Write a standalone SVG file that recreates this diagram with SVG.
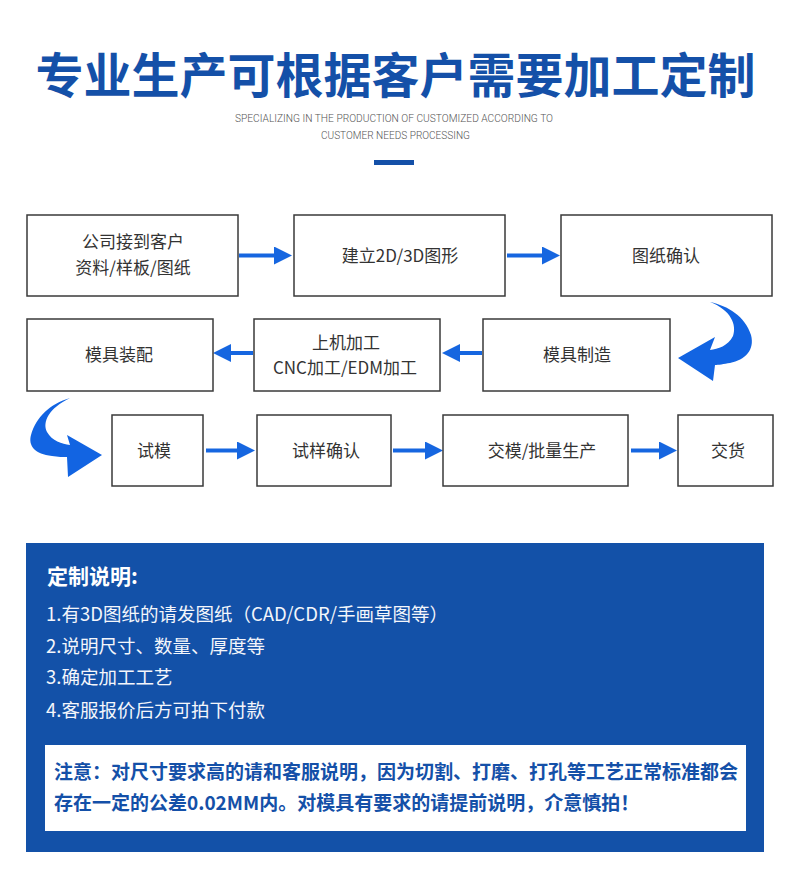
<svg xmlns="http://www.w3.org/2000/svg" width="790" height="888" viewBox="0 0 790 888">
<defs>
<style>
.box{fill:#fff;stroke:#3a3a3a;stroke-width:1.5}
.bt{font-family:"Noto Sans CJK SC","Noto Sans",sans-serif;font-size:17px;fill:#333;text-anchor:middle}
.conn{stroke:#1666e0;stroke-width:4;fill:none}
.sw{fill:#1264e2}
.pt{font-family:"Noto Sans CJK SC","Noto Sans",sans-serif;font-size:18.5px;fill:#f4f6fb}
.nt{font-family:"Noto Sans CJK SC","Noto Sans",sans-serif;font-size:19px;font-weight:700;fill:#1450a8}
</style>
<marker id="ah" viewBox="0 0 18 18" refX="1" refY="9" markerWidth="18" markerHeight="18" markerUnits="userSpaceOnUse" orient="auto">
<path d="M0,0 L18,9 L0,18 Z" fill="#1666e0"/>
</marker>
</defs>
<rect width="790" height="888" fill="#fff"/>

<g id="header">
<text x="395.5" y="93" text-anchor="middle" font-family="Noto Sans CJK SC, sans-serif" font-weight="700" font-size="48" fill="#1450a8">专业生产可根据客户需要加工定制</text>
<text x="394" y="122" text-anchor="middle" font-family="Roboto, sans-serif" font-weight="300" font-size="10" fill="#555" textLength="318" lengthAdjust="spacingAndGlyphs">SPECIALIZING IN THE PRODUCTION OF CUSTOMIZED ACCORDING TO</text>
<text x="395.5" y="139" text-anchor="middle" font-family="Roboto, sans-serif" font-weight="300" font-size="10" fill="#555" textLength="149" lengthAdjust="spacingAndGlyphs">CUSTOMER NEEDS PROCESSING</text>
<rect x="374" y="160" width="40" height="5" fill="#1450a8"/>
</g>

<g id="connectors">
<path class="conn" d="M239,255.5 H275" marker-end="url(#ah)"/>
<path class="conn" d="M507,255.5 H543" marker-end="url(#ah)"/>
<path class="conn" d="M482,353 H459" marker-end="url(#ah)"/>
<path class="conn" d="M253,353 H230" marker-end="url(#ah)"/>
<path class="conn" d="M206,450.5 H238" marker-end="url(#ah)"/>
<path class="conn" d="M393,450.5 H426" marker-end="url(#ah)"/>
<path class="conn" d="M631,450.5 H660" marker-end="url(#ah)"/>
<path class="sw" d="M710,302 C728,306 745,316 751,335 C755,350 745,360 730,363 C724,364 718,365 715,365 L713,381 L678,358 L715,337 L710,350 C718,349 728,346 733,336 C737,325 731,310 710,302 Z"/>
<path class="sw" d="M70,398 C50,404 36,417 31,435 C28,446 35,454 52,456 C58,457 63,457 67,457 L68,477 L102,455 L67,435 L70,445 C62,444 52,441 47,432 C42,422 49,408 70,398 Z"/>
</g>

<g id="n1"><rect class="box" x="27" y="215" width="211" height="81"/>
<text class="bt" x="133" y="248">公司接到客户</text><text class="bt" x="133" y="274">资料/样板/图纸</text></g>
<g id="n2"><rect class="box" x="294" y="215" width="211" height="81"/>
<text class="bt" x="400" y="261.5">建立2D/3D图形</text></g>
<g id="n3"><rect class="box" x="561" y="215" width="211" height="81"/>
<text class="bt" x="666" y="261.5">图纸确认</text></g>
<g id="n4"><rect class="box" x="27" y="319" width="186" height="72"/>
<text class="bt" x="119" y="361">模具装配</text></g>
<g id="n5"><rect class="box" x="254" y="319" width="186" height="72"/>
<text class="bt" x="346" y="349">上机加工</text><text class="bt" x="345" y="374">CNC加工/EDM加工</text></g>
<g id="n6"><rect class="box" x="483" y="319" width="187" height="72"/>
<text class="bt" x="577" y="361">模具制造</text></g>
<g id="n7"><rect class="box" x="112" y="415" width="91" height="71"/>
<text class="bt" x="154" y="456.5">试模</text></g>
<g id="n8"><rect class="box" x="257" y="415" width="134" height="71"/>
<text class="bt" x="326" y="456.5">试样确认</text></g>
<g id="n9"><rect class="box" x="443" y="415" width="185" height="71"/>
<text class="bt" x="542" y="456.5">交模/批量生产</text></g>
<g id="n10"><rect class="box" x="678" y="415" width="95" height="71"/>
<text class="bt" x="728" y="456.5">交货</text></g>

<g id="panel">
<rect x="26" y="543" width="738" height="309" fill="#1351a8"/>
<text x="47" y="584" font-family="Noto Sans CJK SC, sans-serif" font-weight="700" font-size="21" fill="#fff">定制说明:</text>
<text class="pt" x="46" y="620.5">1.有3D图纸的请发图纸（CAD/CDR/手画草图等）</text>
<text class="pt" x="46" y="652.5">2.说明尺寸、数量、厚度等</text>
<text class="pt" x="46" y="684">3.确定加工工艺</text>
<text class="pt" x="46" y="716.5">4.客服报价后方可拍下付款</text>
<rect x="45" y="745" width="701" height="86" fill="#fff"/>
<text class="nt" x="54" y="779">注意：对尺寸要求高的请和客服说明，因为切割、打磨、打孔等工艺正常标准都会</text>
<text class="nt" x="54" y="810">存在一定的公差0.02MM内。对模具有要求的请提前说明，介意慎拍！</text>
</g>
</svg>
